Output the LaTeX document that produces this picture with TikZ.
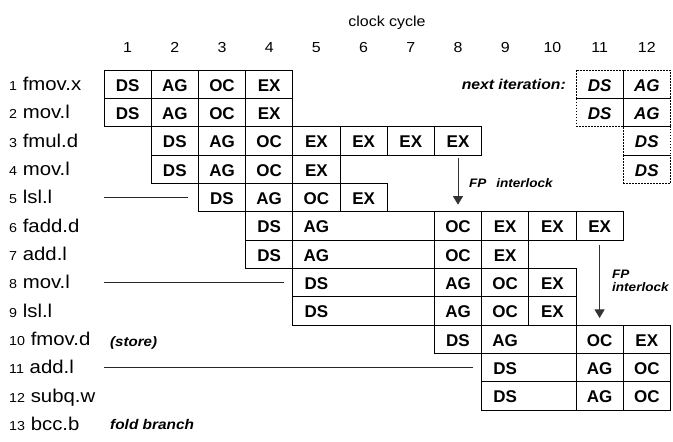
\documentclass[tikz,border=0pt]{standalone}
\usepackage{fontspec}
\setmainfont[FakeStretch=1.1]{Liberation Sans}
\newfontfamily\boxfont{Liberation Sans}
\usetikzlibrary{arrows.meta}

\tikzset{
  cellbox/.style={draw, line width=0.8pt, minimum height=28.33pt, inner sep=0pt, outer sep=0pt, anchor=north west},
  dashbox/.style={cellbox, dash pattern=on 1.6pt off 1.4pt},
  celltxt/.style={inner sep=0pt, font=\boxfont\fontsize{17}{17}\selectfont\bfseries},
  celltxtit/.style={inner sep=0pt, font=\boxfont\fontsize{17}{17}\selectfont\bfseries\itshape},
  rowlab/.style={anchor=base west, inner sep=0pt, font=\fontsize{18.5}{18.5}\selectfont},
  colnum/.style={anchor=base, inner sep=0pt, font=\fontsize{14.5}{15}\selectfont},
  note/.style={inner sep=0pt, font=\fontsize{14}{15}\selectfont\bfseries\itshape},
  smallnote/.style={inner sep=0pt, font=\fontsize{12.3}{14}\selectfont\bfseries\itshape},
  leadline/.style={line width=0.8pt, black!85},
  ilock/.style={line width=0.8pt, black!80, -{Triangle[width=10pt,length=8.5pt]}},
}

\newcommand\pcell[6]{%
  \pgfmathsetmacro\cx{104+47.2*(#2-1)}%
  \pgfmathsetmacro\cy{70+28.33*(#1-1)}%
  \pgfmathsetmacro\cwid{47.2*#3}%
  \node[#5, minimum width=\cwid pt] (r#1c#2) at (\cx,\cy) {};
  \node[#6] (r#1c#2t) at ({\cx+23.6},{\cy+15.3}) {#4};
}
\newcommand\rowlabel[2]{%
  \node[rowlab] (lab#1) at (9,{70+28.33*(#1-0.5)+6.5}) {{\fontsize{13}{13}\selectfont #1} #2};
}

\begin{document}
\begin{tikzpicture}[x=1pt,y=-1pt]
\useasboundingbox (0,0) rectangle (673,442);

% header
\node[colnum] (hdr) at (387,26) {clock cycle};
\foreach \k in {1,...,12}{
  \node[colnum] (col\k) at ({104+47.2*(\k-0.5)},52.5) {\k};
}

% row labels
\rowlabel{1}{fmov.x}
\rowlabel{2}{mov.l}
\rowlabel{3}{fmul.d}
\rowlabel{4}{mov.l}
\rowlabel{5}{lsl.l}
\rowlabel{6}{fadd.d}
\rowlabel{7}{add.l}
\rowlabel{8}{mov.l}
\rowlabel{9}{lsl.l}
\rowlabel{10}{fmov.d}
\rowlabel{11}{add.l}
\rowlabel{12}{subq.w}
\rowlabel{13}{bcc.b}

% row 1
\pcell{1}{1}{1}{DS}{cellbox}{celltxt}
\pcell{1}{2}{1}{AG}{cellbox}{celltxt}
\pcell{1}{3}{1}{OC}{cellbox}{celltxt}
\pcell{1}{4}{1}{EX}{cellbox}{celltxt}
\pcell{1}{11}{1}{DS}{dashbox}{celltxtit}
\pcell{1}{12}{1}{AG}{dashbox}{celltxtit}
% row 2
\pcell{2}{1}{1}{DS}{cellbox}{celltxt}
\pcell{2}{2}{1}{AG}{cellbox}{celltxt}
\pcell{2}{3}{1}{OC}{cellbox}{celltxt}
\pcell{2}{4}{1}{EX}{cellbox}{celltxt}
\pcell{2}{11}{1}{DS}{dashbox}{celltxtit}
\pcell{2}{12}{1}{AG}{dashbox}{celltxtit}
% row 3
\pcell{3}{2}{1}{DS}{cellbox}{celltxt}
\pcell{3}{3}{1}{AG}{cellbox}{celltxt}
\pcell{3}{4}{1}{OC}{cellbox}{celltxt}
\pcell{3}{5}{1}{EX}{cellbox}{celltxt}
\pcell{3}{6}{1}{EX}{cellbox}{celltxt}
\pcell{3}{7}{1}{EX}{cellbox}{celltxt}
\pcell{3}{8}{1}{EX}{cellbox}{celltxt}
\pcell{3}{12}{1}{DS}{dashbox}{celltxtit}
% row 4
\pcell{4}{2}{1}{DS}{cellbox}{celltxt}
\pcell{4}{3}{1}{AG}{cellbox}{celltxt}
\pcell{4}{4}{1}{OC}{cellbox}{celltxt}
\pcell{4}{5}{1}{EX}{cellbox}{celltxt}
\pcell{4}{12}{1}{DS}{dashbox}{celltxtit}
% row 5
\pcell{5}{3}{1}{DS}{cellbox}{celltxt}
\pcell{5}{4}{1}{AG}{cellbox}{celltxt}
\pcell{5}{5}{1}{OC}{cellbox}{celltxt}
\pcell{5}{6}{1}{EX}{cellbox}{celltxt}
% row 6
\pcell{6}{4}{1}{DS}{cellbox}{celltxt}
\pcell{6}{5}{3}{AG}{cellbox}{celltxt}
\pcell{6}{8}{1}{OC}{cellbox}{celltxt}
\pcell{6}{9}{1}{EX}{cellbox}{celltxt}
\pcell{6}{10}{1}{EX}{cellbox}{celltxt}
\pcell{6}{11}{1}{EX}{cellbox}{celltxt}
% row 7
\pcell{7}{4}{1}{DS}{cellbox}{celltxt}
\pcell{7}{5}{3}{AG}{cellbox}{celltxt}
\pcell{7}{8}{1}{OC}{cellbox}{celltxt}
\pcell{7}{9}{1}{EX}{cellbox}{celltxt}
% row 8
\pcell{8}{5}{3}{DS}{cellbox}{celltxt}
\pcell{8}{8}{1}{AG}{cellbox}{celltxt}
\pcell{8}{9}{1}{OC}{cellbox}{celltxt}
\pcell{8}{10}{1}{EX}{cellbox}{celltxt}
% row 9
\pcell{9}{5}{3}{DS}{cellbox}{celltxt}
\pcell{9}{8}{1}{AG}{cellbox}{celltxt}
\pcell{9}{9}{1}{OC}{cellbox}{celltxt}
\pcell{9}{10}{1}{EX}{cellbox}{celltxt}
% row 10
\pcell{10}{8}{1}{DS}{cellbox}{celltxt}
\pcell{10}{9}{2}{AG}{cellbox}{celltxt}
\pcell{10}{11}{1}{OC}{cellbox}{celltxt}
\pcell{10}{12}{1}{EX}{cellbox}{celltxt}
% row 11
\pcell{11}{9}{2}{DS}{cellbox}{celltxt}
\pcell{11}{11}{1}{AG}{cellbox}{celltxt}
\pcell{11}{12}{1}{OC}{cellbox}{celltxt}
% row 12
\pcell{12}{9}{2}{DS}{cellbox}{celltxt}
\pcell{12}{11}{1}{AG}{cellbox}{celltxt}
\pcell{12}{12}{1}{OC}{cellbox}{celltxt}

% lead lines
\coordinate (ls5) at (104,{70+28.33*4.5});
\coordinate (ls8) at (104,{70+28.33*7.5});
\coordinate (ls11) at (104,{70+28.33*10.5});
\draw[leadline] (ls5) -- ([xshift=-10pt]r5c3.west);
\draw[leadline] (ls8) -- ([xshift=-9pt]r8c5.west);
\draw[leadline] (ls11) -- ([xshift=-9pt]r11c9.west);

% notes
\node[note, anchor=base east, font=\fontsize{14.3}{15}\selectfont\bfseries\itshape] (nextit) at (566,89) {next iteration:};
\node[note, anchor=base west, font=\fontsize{13.7}{15}\selectfont\bfseries\itshape] (store) at (110,346) {(store)};
\node[note, anchor=base west] (fold) at (110,429) {fold branch};

% interlocks
\draw[ilock] ([yshift=-3pt]r3c8.south) -- ([yshift=7pt]r6c8.north);
\node[smallnote, anchor=base west] (fp1) at (469,187) {FP\hspace{0.8em}interlock};
\draw[ilock] ([yshift=-5pt]r6c11.south) -- ([yshift=7pt]r10c11.north);
\node[smallnote, anchor=west, align=left] (fp2) at (612,281) {FP\\[-1pt]interlock};
\end{tikzpicture}
\end{document}
